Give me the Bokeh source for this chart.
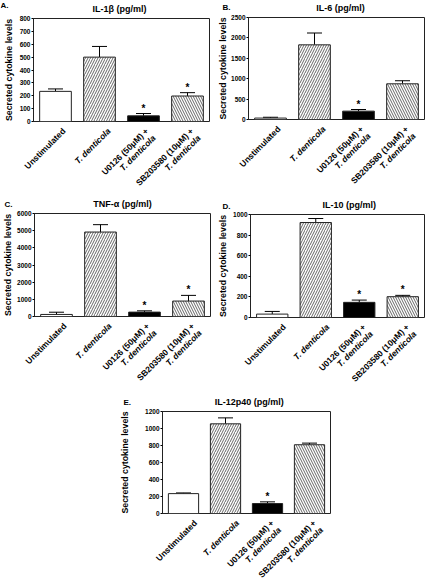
import math
from bokeh.plotting import figure
from bokeh.models import Range1d, FixedTicker, ColumnDataSource, Spacer
from bokeh.layouts import column, row
from bokeh.core.properties import field, value
from bokeh.embed import file_html
from bokeh.resources import INLINE

FONT = "Liberation Sans"

# ---- data ----
cat_line1 = ["Unstimulated", "T. denticola", "U0126 (50\u03bcM) +", "SB203580 (10\u03bcM) +"]
cat_line2 = ["", "", "T. denticola", "T. denticola"]
line1_italic = [False, True, False, False]
bar_fill = ["white", "white", "black", "white"]
bar_hatch = [" ", "/", " ", "\\"]
y_label = "Secreted cytokine levels"

il1b_mean = [234, 500, 44, 198]
il1b_err = [19, 83, 18, 26]
il1b_star = [False, False, True, True]

il6_mean = [35, 1830, 205, 875]
il6_err = [20, 290, 40, 75]
il6_star = [False, False, True, False]

tnf_mean = [120, 4920, 255, 900]
tnf_err = [130, 430, 75, 330]
tnf_star = [False, False, True, True]

il10_mean = [33, 922, 147, 202]
il10_err = [26, 39, 22, 13]
il10_star = [False, False, True, True]

il12_mean = [234, 1055, 117, 809]
il12_err = [8, 70, 20, 19]
il12_star = [False, False, True, False]

PAD = 4  # border kept around each plot frame for tick labels


def no_align(f):
    try:
        f.frame_align = False
    except Exception:
        pass
    return f


def blank_fig(W, h, L, R, y0, y1):
    """A figure whose frame fills it, sharing the panel's x scale (for text)."""
    s = (W - L - R) / 4.0
    f = figure(width=W, height=h, output_backend="svg", toolbar_location=None,
               x_range=Range1d(-0.5 - L / s, 3.5 + R / s), y_range=Range1d(y0, y1),
               x_axis_location=None, y_axis_location=None, title_location=None,
               min_border=0)
    f.grid.visible = False
    f.outline_line_color = None
    f.background_fill_color = "white"
    f.border_fill_color = "white"
    return no_align(f), s


def make_panel(letter, title, means, errs, stars, ytop, ystep,
               W, H, L, R, T, B, letter_dx, letter_dy, title_dx, ylab_standoff):
    head_h = T - PAD
    plot_h = (B - T) + 2 * PAD
    foot_h = H - B - PAD

    # ---- main plot ----
    p = figure(width=W, height=plot_h, output_backend="svg", toolbar_location=None,
               x_range=Range1d(-0.5, 3.5), y_range=Range1d(0, ytop),
               title_location=None,
               min_border_left=L, min_border_right=R,
               min_border_top=PAD, min_border_bottom=PAD)
    no_align(p)
    p.xaxis.visible = False
    p.xgrid.visible = False
    p.ygrid.visible = False
    p.outline_line_color = "#222222"
    p.outline_line_width = 1
    p.background_fill_color = "white"
    p.border_fill_color = "white"

    ya = p.yaxis[0]
    ya.ticker = FixedTicker(ticks=list(range(0, ytop + 1, ystep)))
    ya.minor_tick_line_color = None
    ya.major_tick_in = 0
    ya.major_tick_out = 2
    ya.major_tick_line_color = "black"
    ya.major_label_standoff = 1
    ya.major_label_text_font = FONT
    ya.major_label_text_font_size = "6.5px"
    ya.major_label_text_font_style = "bold"
    ya.major_label_text_color = "black"
    ya.axis_line_color = "#222222"
    ya.axis_label = y_label
    ya.axis_label_text_font = FONT
    ya.axis_label_text_font_size = "8.8px"
    ya.axis_label_text_font_style = "bold"
    ya.axis_label_text_color = "black"
    ya.axis_label_standoff = ylab_standoff

    xs = list(range(len(means)))
    src = ColumnDataSource(dict(
        x=xs, top=means, upper=[m + e for m, e in zip(means, errs)],
        fill=bar_fill, hatch=bar_hatch))
    p.segment(x0="x", y0="top", x1="x", y1="upper", source=src,
              line_color="black", line_width=1)
    p.scatter(x="x", y="upper", source=src, marker="dash", size=15,
              line_color="black", line_width=1)
    p.vbar(x="x", top="top", bottom=0, width=0.72, source=src,
           fill_color="fill", line_color="#222222", line_width=1,
           hatch_pattern=field("hatch"), hatch_color="black",
           hatch_scale=5, hatch_weight=0.6)

    sx = [x for x, s in zip(xs, stars) if s]
    sy = [m + e for m, e, s in zip(means, errs, stars) if s]
    ssrc = ColumnDataSource(dict(x=sx, y=sy, t=["*"] * len(sx)))
    p.text(x="x", y="y", text="t", source=ssrc, text_align="center",
           text_baseline="bottom", text_font=value(FONT),
           text_font_size="10px", text_font_style="bold", text_color="black")

    # ---- header: panel letter and title (y = px above frame top) ----
    head, s = blank_fig(W, head_h, L, R, PAD, T)
    head.text(x=[1.5 + title_dx / s], y=[4.5], text=[title], text_align="center",
              text_baseline="bottom", text_font=value(FONT), text_font_size="9px",
              text_font_style="bold", text_color="black")
    head.text(x=[-0.5 + letter_dx / s], y=[letter_dy], text=[letter], text_align="left",
              text_baseline="top", text_font=value(FONT), text_font_size="8px",
              text_font_style="bold", text_color="black")

    # ---- footer: rotated category labels (y = -px below frame bottom) ----
    foot, s = blank_fig(W, foot_h, L, R, -(foot_h + PAD), -PAD)
    lx, ly, lt, ls = [], [], [], []
    for i in xs:
        if cat_line2[i]:
            lx += [i + 5 / s, i + 12 / s]
            ly += [-8, -15]
            lt += [cat_line1[i], cat_line2[i]]
            ls += ["bold", "bold italic"]
        else:
            lx.append(i + 12 / s)
            ly.append(-8)
            lt.append(cat_line1[i])
            ls.append("bold italic" if line1_italic[i] else "bold")
    lsrc = ColumnDataSource(dict(x=lx, y=ly, t=lt, st=ls))
    foot.text(x="x", y="y", text="t", source=lsrc, angle=math.pi / 4,
              text_align="right", text_baseline="middle", text_font=value(FONT),
              text_font_size="8.5px", text_font_style=field("st"), text_color="black")

    return column(head, p, foot)


pA = make_panel("A.", "IL-1\u03b2 (pg/ml)", il1b_mean, il1b_err, il1b_star, 800, 100,
                215, 190, 29, 6, 18, 121, -29, 18, 0, 3)
pB = make_panel("B.", "IL-6 (pg/ml)", il6_mean, il6_err, il6_star, 2500, 500,
                218, 190, 29, 9, 17, 119, -22, 15, 6, 0)
pC = make_panel("C.", "TNF-\u03b1 (pg/ml)", tnf_mean, tnf_err, tnf_star, 6000, 1000,
                215, 195, 30, 5, 23, 126, -26, 14, 2, 1)
pD = make_panel("D.", "IL-10  (pg/ml)", il10_mean, il10_err, il10_star, 1000, 200,
                218, 195, 35, 9, 24, 127, -28, 13, 13, 2)
pE = make_panel("E.", "IL-12p40  (pg/ml)", il12_mean, il12_err, il12_star, 1200, 200,
                230, 194, 52, 10, 26, 128, -39, 14, 4, 12)

layout = column(row(pA, pB), row(pC, pD), row(Spacer(width=110, height=194), pE))

open("out.html", "w").write(file_html(layout, INLINE))
